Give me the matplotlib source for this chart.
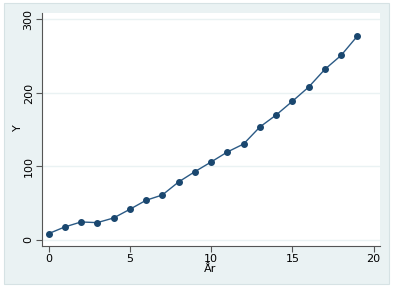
import matplotlib.pyplot as plt
from matplotlib.patches import Rectangle

# data
years = list(range(20))
values = [8.6, 17.7, 24.5, 23.6, 29.9, 41.7, 54.0, 61.2, 78.9, 92.9,
          106.1, 119.7, 130.6, 153.7, 170.0, 188.7, 208.0, 232.2, 251.2, 277.5]
xticks = [0, 5, 10, 15, 20]
yticks = [0, 100, 200, 300]

navy = '#1a476f'
bluegray = '#eaf2f3'

fig = plt.figure(figsize=(3.93, 2.88), dpi=100)
fig.patch.set_facecolor('white')
# graph region (light bluish gray with thin border)
fig.patches.append(Rectangle((3.5 / 393, 1 - 284 / 288), 385 / 393, 281 / 288,
                             transform=fig.transFigure, facecolor=bluegray,
                             edgecolor='#d6e2e4', linewidth=0.8, zorder=-1))

ax = fig.add_axes([42 / 393, 1 - 246 / 288, 338 / 393, 233 / 288])
ax.set_zorder(2)
ax.set_facecolor('white')
ax.plot(years, values, color='#2b5a85', linewidth=1.0, marker='o', markersize=4,
        markerfacecolor=navy, markeredgecolor=navy, zorder=3)

ax.set_xlim(-0.4, 20.39)
ax.set_ylim(-8.2, 308.8)
ax.set_xticks(xticks)
ax.set_yticks(yticks)
ax.grid(axis='y', color=bluegray, linewidth=1.0)
ax.set_axisbelow(True)

for s in ['top', 'right']:
    ax.spines[s].set_visible(False)
for s in ['left', 'bottom']:
    ax.spines[s].set_color('#555555')
    ax.spines[s].set_linewidth(0.8)

ax.tick_params(axis='both', colors='#555555', labelcolor='black',
               labelsize=8, length=4, width=0.8, pad=2)
for lbl in ax.get_yticklabels():
    lbl.set_rotation(90)
    lbl.set_va('center')

ax.set_xlabel('År', fontsize=8)
ax.set_ylabel('Y', fontsize=8)
ax.xaxis.set_label_coords((210 - 42) / 338, (246 - 264) / 233)
ax.yaxis.set_label_coords((23 - 42) / 338, (246 - 128) / 233)

plt.savefig('out.png', dpi=100, facecolor=fig.get_facecolor())
